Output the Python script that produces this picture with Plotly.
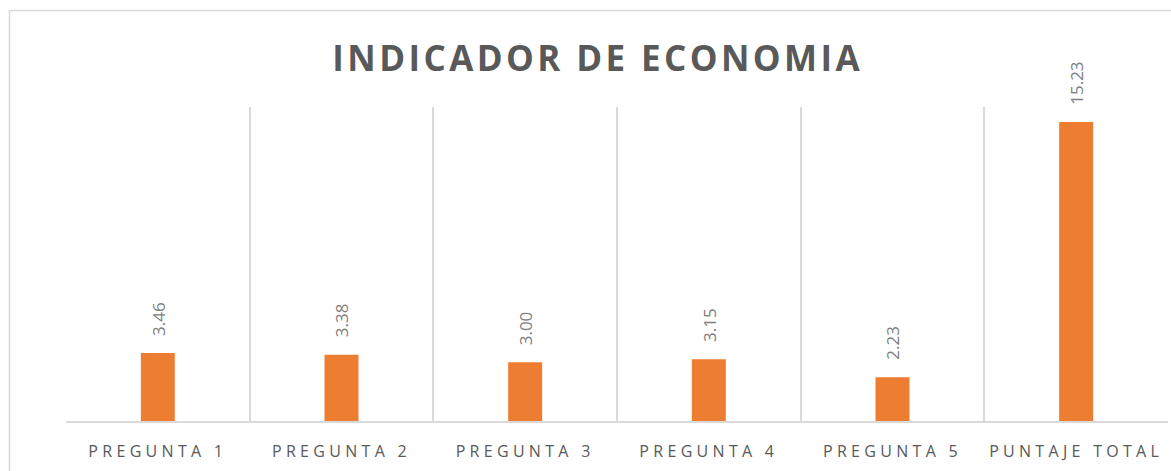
import plotly.graph_objects as go

categories = ["PREGUNTA 1", "PREGUNTA 2", "PREGUNTA 3", "PREGUNTA 4", "PREGUNTA 5", "PUNTAJE TOTAL"]
values = [3.46, 3.38, 3.00, 3.15, 2.23, 15.23]
labels = ["3.46", "3.38", "3.00", "3.15", "2.23", "15.23"]
title_text = "INDICADOR DE ECONOMIA"

W, H = 1171, 471
L, R, T, B = 66, 3, 107, 50
pw, ph = W - L - R, H - T - B

def px_x(x):
    return (x - L) / pw

def px_y(y):
    return 1 - (y - T) / ph

fig = go.Figure()
fig.add_trace(go.Bar(
    x=categories, y=values, width=0.185,
    marker=dict(color="#ED7D31", line=dict(width=0)),
    hoverinfo="skip",
))

for c, v, t in zip(categories, values, labels):
    fig.add_annotation(
        x=c, y=v, text=t, showarrow=False, textangle=-90,
        xanchor="center", yanchor="bottom", yshift=15,
        font=dict(family="Open Sans", size=17, color="#7F7F7F"),
    )

fig.add_annotation(
    xref="paper", yref="paper", x=px_x(598), y=px_y(58),
    text="<b>" + title_text + "</b>", showarrow=False,
    xanchor="center", yanchor="middle",
    font=dict(family="Open Sans", size=35, color="#595959"),
)

fig.add_shape(
    type="rect", xref="paper", yref="paper",
    x0=px_x(9.5), x1=px_x(1190), y0=px_y(10.5), y1=px_y(520),
    line=dict(color="#D9D9D9", width=1.5), layer="below",
)

fig.update_layout(
    width=W, height=H,
    margin=dict(l=L, r=R, t=T, b=B),
    paper_bgcolor="white", plot_bgcolor="white",
    showlegend=False,
    xaxis=dict(
        tickson="boundaries", showgrid=True, gridcolor="#D9D9D9", gridwidth=1.5,
        showline=True, linecolor="#D9D9D9", linewidth=1.5,
        ticks="", ticklabelstandoff=15,
        tickfont=dict(family="Open Sans", size=16, color="#595959"),
        range=[-0.5, 5.5], fixedrange=True,
    ),
    yaxis=dict(
        range=[0, 16], showgrid=False, zeroline=False, showticklabels=False,
        ticks="", fixedrange=True,
    ),
)

post = """
document.querySelectorAll('.xtick text').forEach(function(t){t.style.letterSpacing='4.3px';});
document.querySelectorAll('.annotation-text').forEach(function(t){
  if (t.textContent.indexOf('INDICADOR') >= 0) { t.style.letterSpacing='3.4px'; }
});
"""

fig.write_html("out.html", config={"displayModeBar": False}, post_script=post)
